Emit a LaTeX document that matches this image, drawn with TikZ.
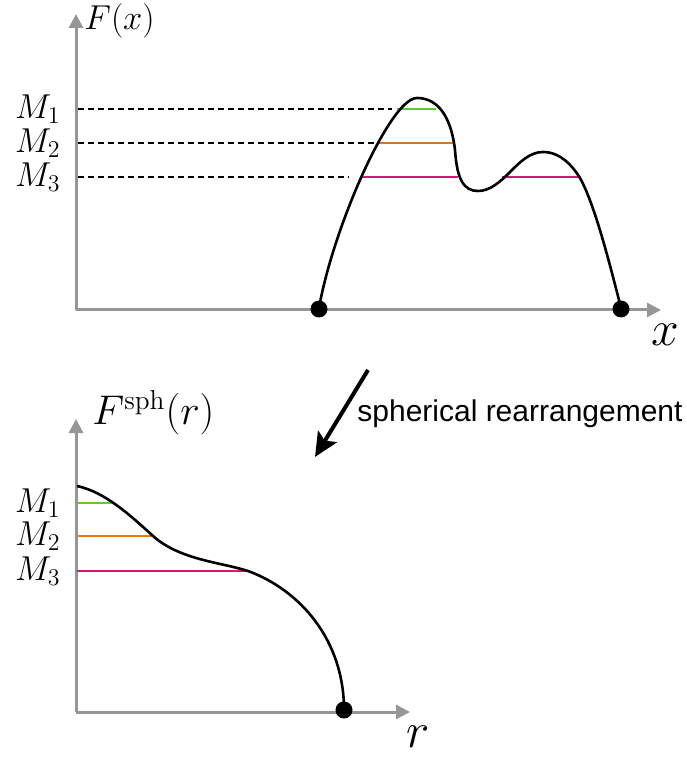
\documentclass[tikz,border=0pt]{standalone}
\usepackage{fontspec}
\newfontfamily\sansfont{Liberation Sans}
\usetikzlibrary{arrows.meta}

\definecolor{axisgray}{RGB}{150,150,150}
\definecolor{levgreen}{RGB}{94,203,45}
\definecolor{levbrown}{RGB}{210,118,42}
\definecolor{levorange}{RGB}{240,120,16}
\definecolor{levpink}{RGB}{212,23,122}

\begin{document}
\begin{tikzpicture}[
  x=0.5pt, y=-0.5pt,
  axis/.style={draw=axisgray, line width=1.5pt, -{Triangle[length=7pt,width=7pt]}},
  curve/.style={draw=black, line width=1.3pt},
  level/.style={draw=black, line width=1.1pt, dash pattern=on 3pt off 2pt},
  cut/.style={line width=1.4pt},
  dot/.style={circle, fill=black, inner sep=0pt, minimum size=8.5pt},
  mlabel/.style={font=\fontsize{18}{20}\selectfont, anchor=east, inner sep=0pt}
]
  \useasboundingbox (0,0) rectangle (686,758);

  % upper plot: F(x)
  \coordinate (o1) at (76,310);
  \draw[axis] (o1) -- (76,14);
  \draw[axis] (o1) -- (661,310);
  \node[anchor=west, inner sep=0pt, font=\fontsize{18}{20}\selectfont] (fx) at (84,21) {$F(x)$};
  \node[inner sep=0pt, font=\fontsize{29}{31}\selectfont] (xlab) at (665,335) {$x$};

  % level sets
  \foreach \i/\y/\xend in {1/109/392, 2/143/375, 3/177/349} {
    \node[mlabel] (m\i) at (61,\y) {$M_\i$};
    \draw[level] (78,\y) -- (\xend,\y);
  }
  \draw[cut, levgreen] (397,109) -- (436,109);
  \draw[cut, levbrown] (377,143) -- (454,143);
  \draw[cut, levpink] (361,177) -- (458,177);
  \draw[cut, levpink] (502,177) -- (579,177);

  % the function
  \draw[curve] (319,308) .. controls (333,228) and (390,98) .. (417,98)
    .. controls (432,98) and (450,108) .. (455,150)
    .. controls (457,180) and (464,191) .. (478,191)
    .. controls (490,191) and (500,182) .. (510,172)
    .. controls (520,162) and (530,152) .. (543,152)
    .. controls (560,152) and (572,165) .. (580,178)
    .. controls (595,205) and (610,265) .. (621,308);
  \node[dot] (a) at (319,309) {};
  \node[dot] (b) at (621,309) {};

  % rearrangement arrow
  \coordinate (arrs) at (368,370);
  \coordinate (arre) at (315,457);
  \draw[line width=2pt, -{Stealth[length=12pt,width=11pt,inset=2.5pt]}] (arrs) -- (arre);
  \node[anchor=west, inner sep=0pt, font=\sansfont\fontsize{15}{18}\selectfont] (rearr) at (357,414) {spherical rearrangement};

  % lower plot: F^sph(r)
  \coordinate (o2) at (76,712);
  \draw[axis] (o2) -- (76,419);
  \draw[axis] (o2) -- (410,712);
  \node[anchor=west, inner sep=0pt, font=\fontsize{19.5}{22}\selectfont] (fsph) at (92,413) {$F^{\mathrm{sph}}(r)$};
  \node[inner sep=0pt, font=\fontsize{28}{30}\selectfont] (rlab) at (418,737) {$r$};

  \foreach \i/\y in {1/503, 2/536, 3/571} {
    \node[mlabel] (n\i) at (61,\y) {$M_\i$};
  }
  \draw[cut, levgreen] (77,503) -- (113,503);
  \draw[cut, levorange] (77,536) -- (153,536);
  \draw[cut, levpink] (77,571) -- (248,571);

  \draw[curve] (77,486) .. controls (105,492) and (130,515) .. (153,536)
    .. controls (180,560) and (220,562) .. (248,571)
    .. controls (300,590) and (344,640) .. (344,710);
  \node[dot] (c) at (344,710) {};
\end{tikzpicture}
\end{document}
